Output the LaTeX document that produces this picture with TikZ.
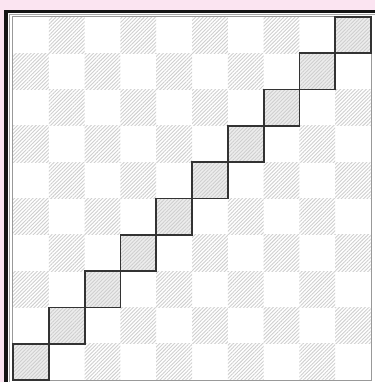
\documentclass[tikz,border=0pt]{standalone}
\usetikzlibrary{patterns.meta}
\definecolor{bgpink}{HTML}{FBE4F1}
\definecolor{hatchgray}{HTML}{CFCFCF}
\tikzset{
  hatchcell/.style={pattern={Lines[angle=45,distance=2.6pt,line width=0.9pt]},pattern color=hatchgray},
  diagfill/.style={fill=black!7},
  diagedge/.style={draw=black!80,line width=1.8pt},
}
\begin{document}
\begin{tikzpicture}[x=1pt,y=-1pt]
\useasboundingbox (0,0) rectangle (375,382);
\fill[bgpink] (0,0) rectangle (375,382);
\fill[black!92] (4,10) rectangle (375,382);
\fill[white] (8,13) rectangle (375,382);
\draw[black!35,line width=1.2pt] (9.6,382) -- (9.6,14.6) -- (375,14.6);
\foreach \c in {0,...,9}{
  \foreach \r in {0,...,9}{
    \pgfmathtruncatemacro\s{mod(\r+\c,2)}
    \ifnum\s=1
      \path[hatchcell] ({13+\c*35.8},{17+\r*36.3}) rectangle ++(35.8,36.3);
    \fi
  }
}
\draw[black!40,line width=1.2pt] (12.6,16.6) rectangle (371.4,380.2);
\foreach \r in {0,...,9}{
  \pgfmathtruncatemacro\c{9-\r}
  \path[diagfill] ({13+\c*35.8},{17+\r*36.3}) rectangle ++(35.8,36.3);
  \path[hatchcell] ({13+\c*35.8},{17+\r*36.3}) rectangle ++(35.8,36.3);
  \path[diagedge] ({13+\c*35.8},{17+\r*36.3}) rectangle ++(35.8,36.3);
}
\end{tikzpicture}
\end{document}
